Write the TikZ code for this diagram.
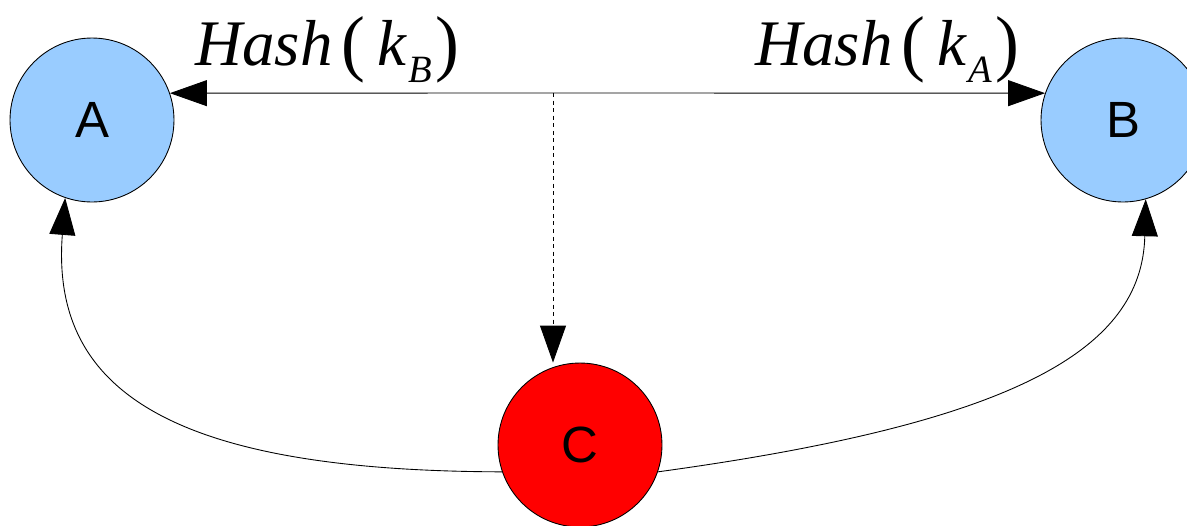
\documentclass[tikz,border=0pt]{standalone}
\usepackage{fontspec}
\newfontfamily\hashfont{Liberation Serif}
\newfontfamily\letterfont{Liberation Sans}
\usetikzlibrary{arrows.meta, positioning}
\definecolor{peerblue}{HTML}{99CCFF}
\definecolor{evered}{HTML}{FF0000}
\newcommand{\tallparen}[1]{\raisebox{-1.5pt}{\scalebox{1.1}[1.13]{#1}}}
\newcommand{\hashof}[1]{{\itshape Hash}\kern5pt\tallparen{(}\kern7pt{\itshape k}\kern1pt\raisebox{-10pt}{\fontsize{22}{22}\selectfont\itshape #1}\kern2pt\tallparen{)}}
\tikzset{
  peer/.style={circle, draw, line width=0.5pt, fill=peerblue, minimum size=3.28cm, inner sep=0pt,
    font=\letterfont\fontsize{29}{29}\selectfont},
  eve/.style={peer, fill=evered},
  hashlbl/.style={inner sep=0pt, anchor=base west, font=\hashfont\fontsize{37}{37}\selectfont},
  msg/.style={line width=0.5pt, -{Triangle[length=0.74cm, width=0.52cm]}},
}

\begin{document}
\begin{tikzpicture}[x=0.02cm, y=-0.02cm]
        \useasboundingbox (0,0) rectangle (1187,525);
        %i tre nodi
        \node[peer] (A) at (92,120) {A};
        \node[peer] (B) at (1123,120) {B};
        \node[eve] (C) at (580,445) {C};
        %scambio delle chiavi
        \coordinate (mid) at (553,93);
        \draw[msg] (mid) -- (A.19);
        \draw[msg] (mid) -- (B.161);
        \node[hashlbl] (hb) at (195,65) {\hashof{B}};
        \node[hashlbl] (ha) at (755,65) {\hashof{A}};
        %intercettazione
        \draw[msg, dash pattern=on 2.3pt off 2pt] (mid) -- (mid |- C.north);
        \draw[msg] (C.199) .. controls (179,471) and (50,395) .. (A.251);
        \draw[msg] (C.341) .. controls (1015,423) and (1142,350) .. (B.286);
    \end{tikzpicture}
\end{document}
